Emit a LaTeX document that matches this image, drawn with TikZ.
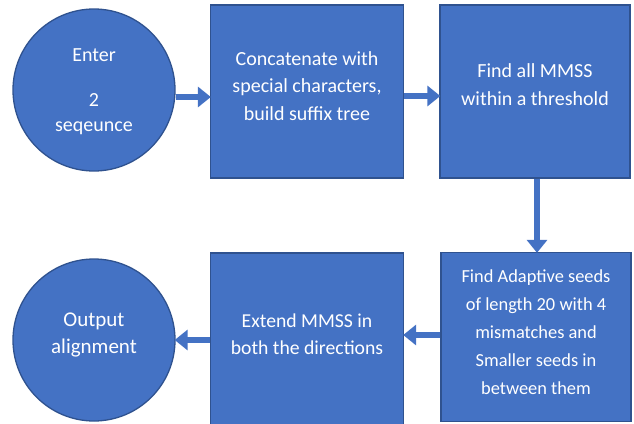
\documentclass[tikz,border=0pt]{standalone}
\usepackage{fontspec}
\setmainfont{Carlito}
\usetikzlibrary{arrows.meta}
\definecolor{ofblue}{HTML}{4472C4}
\definecolor{ofedge}{HTML}{2F528F}
\begin{document}
\begin{tikzpicture}[x=1pt,y=-1pt,
  boxstyle/.style={draw=ofedge, fill=ofblue, line width=1.3pt, inner sep=0pt},
  circstyle/.style={draw=ofedge, fill=ofblue, line width=1.3pt, circle, inner sep=0pt},
  lbl/.style={text=white, align=center, inner sep=0pt},
  flowarrow/.style={draw=ofblue, line width=6pt, -{Triangle[length=13pt,width=20pt]}, shorten >=-1pt},
]
\useasboundingbox (0,0) rectangle (634,423);
% shapes
\node[circstyle, minimum size=162pt] (enter) at (94,90) {};
\node[boxstyle, minimum width=193pt, minimum height=173pt] (concat) at (307,91.5) {};
\node[boxstyle, minimum width=190pt, minimum height=173pt] (mmss) at (535,91.5) {};
\node[boxstyle, minimum width=190pt, minimum height=169pt] (seeds) at (536,337) {};
\node[boxstyle, minimum width=193pt, minimum height=172pt] (extend) at (307,339) {};
\node[circstyle, minimum size=162pt] (output) at (94,340) {};
% labels
\node[lbl, font=\fontsize{20}{24}\selectfont] (entera) at (94,55) {Enter};
\node[lbl, font=\fontsize{20}{24}\selectfont] (enterb) at (94,100) {2};
\node[lbl, font=\fontsize{20}{24}\selectfont] (enterc) at (94,128) {seqeunce};
\node[lbl, font=\fontsize{20}{27.5}\selectfont] (concatl) at (307,86) {Concatenate with\\special characters,\\build suffix tree};
\node[lbl, font=\fontsize{20}{28}\selectfont] (mmssl) at (535,85) {Find all MMSS\\within a threshold};
\node[lbl, font=\fontsize{18.4}{28}\selectfont] (seedsl) at (536,332) {Find Adaptive seeds\\of length 20 with 4\\mismatches and\\Smaller seeds in\\between them};
\node[lbl, font=\fontsize{19.7}{27}\selectfont] (extendl) at (307,334.5) {Extend MMSS in\\both the directions};
\node[lbl, font=\fontsize{21}{27}\selectfont] (outputl) at (94,334.5) {Output\\alignment};
% arrows
\draw[flowarrow] (enter.east |- 0,97) -- (concat.west |- 0,97);
\draw[flowarrow] (concat.east |- 0,96) -- (mmss.west |- 0,96);
\draw[flowarrow] (mmss.south -| 537,0) -- (seeds.north -| 537,0);
\draw[flowarrow] (seeds.west |- 0,335) -- (extend.east |- 0,335);
\draw[flowarrow] (extend.west |- 0,340) -- (output.east |- 0,340);
\end{tikzpicture}
\end{document}
